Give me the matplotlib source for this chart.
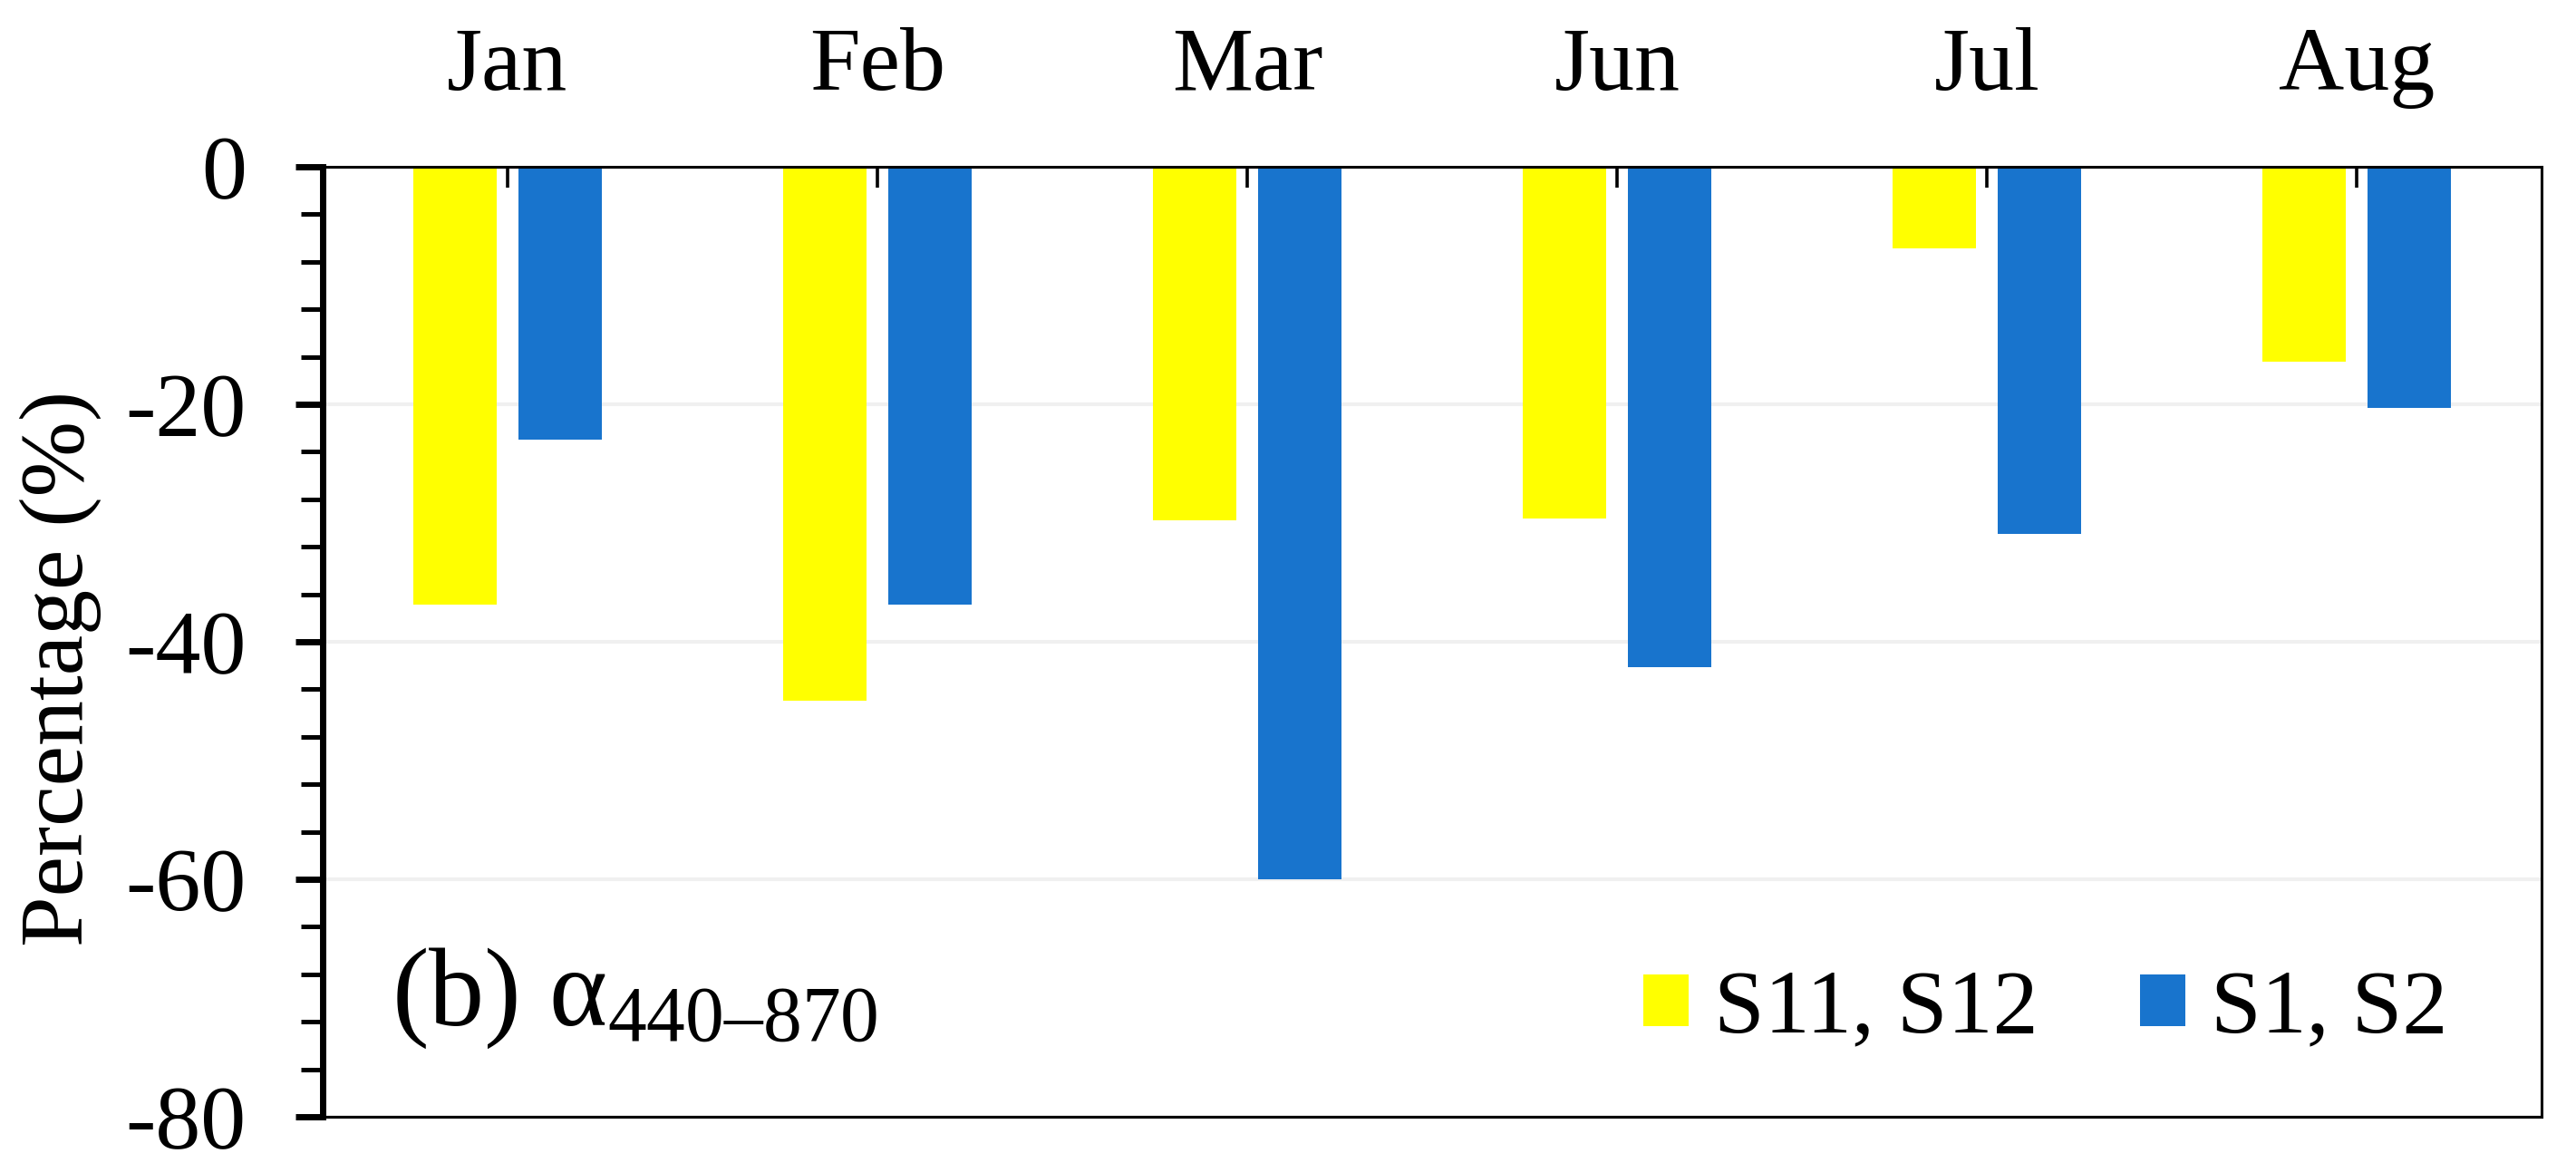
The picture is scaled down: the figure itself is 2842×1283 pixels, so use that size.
import numpy as np
import matplotlib
matplotlib.use('Agg')
import matplotlib.pyplot as plt
from matplotlib.ticker import MultipleLocator

plt.rcParams['font.family'] = 'Liberation Serif'
plt.rcParams['mathtext.fontset'] = 'custom'
plt.rcParams['mathtext.rm'] = 'Liberation Serif'
plt.rcParams['mathtext.it'] = 'Liberation Serif:italic'
plt.rcParams['axes.unicode_minus'] = False

# data
months = ['Jan', 'Feb', 'Mar', 'Jun', 'Jul', 'Aug']
s11_s12 = [-36.9, -45.0, -29.8, -29.6, -6.9, -16.4]
s1_s2 = [-23.0, -36.9, -60.0, -42.1, -30.9, -20.3]
series_names = ['S11, S12', 'S1, S2']
colors = ['#FFFF00', '#1874CD']

fig = plt.figure(figsize=(14.21, 6.415), dpi=200)
ax = fig.add_axes([0.12526, 0.03975, 0.86137, 0.81684])

x = np.arange(len(months))
w = 0.2255
b1 = ax.bar(x - 0.142, s11_s12, w, color=colors[0], zorder=2, label=series_names[0])
b2 = ax.bar(x + 0.142, s1_s2, w, color=colors[1], zorder=2, label=series_names[1])

ax.set_xlim(-0.5, len(months) - 0.5)
ax.set_ylim(-80, 0)

# month labels on top
ax.xaxis.tick_top()
ax.set_xticks(x)
ax.set_xticklabels(months)
ax.tick_params(axis='x', which='major', direction='in', length=8.3, width=1.3,
               pad=23, labelsize=36)

ax.yaxis.set_major_locator(MultipleLocator(20))
ax.yaxis.set_minor_locator(MultipleLocator(4))
ax.tick_params(axis='y', which='major', direction='out', length=10.8, width=2.5,
               pad=19.5, labelsize=36)
ax.tick_params(axis='y', which='minor', direction='out', length=8.5, width=1.8)

ax.grid(axis='y', which='major', color='#f0f0f0', linewidth=1.45, zorder=0)
ax.set_axisbelow(True)

for side in ['top', 'right', 'bottom']:
    ax.spines[side].set_linewidth(1.1)
ax.spines['left'].set_linewidth(2.5)

ax.set_ylabel('Percentage (%)', fontsize=36)
ax.yaxis.set_label_coords(-0.0995, 0.472)

ax.text(0.031, 0.0965, '(b) α$_{\\mathrm{440–870}}$', transform=ax.transAxes,
        fontsize=44, ha='left', va='baseline')

ax.legend(handles=[b1, b2], loc='center right', bbox_to_anchor=(0.978, 0.112),
          ncol=2, frameon=False, fontsize=36, borderpad=0, handlelength=0.5,
          handleheight=0.5, handletextpad=0.28, columnspacing=1.12)

fig.savefig('out.png', dpi=200)
